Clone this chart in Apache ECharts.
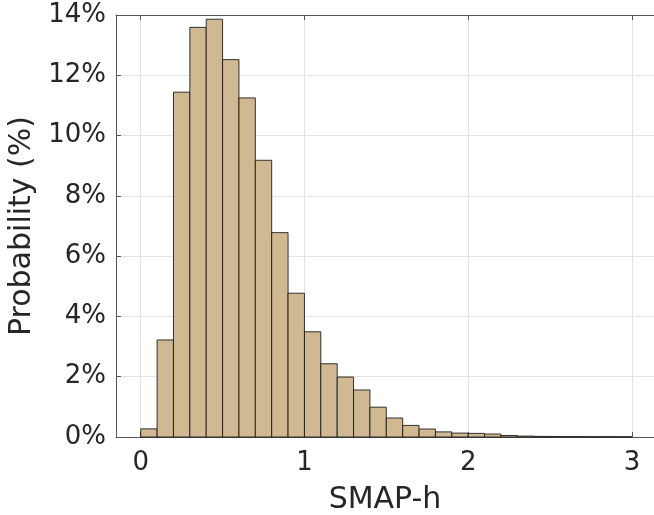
<!DOCTYPE html>
<html lang="en">
<head>
    <meta charset="UTF-8">
    <title>SMAP-h histogram</title>
    <script src="https://cdn.jsdelivr.net/npm/echarts@6/dist/echarts.min.js"></script>
    <style>
        html, body { margin: 0; padding: 0; background: #fff; }
        #chart { width: 654px; height: 515px; }
    </style>
</head>
<body>
    <div id="chart"></div>

    <script>
        // Histogram bins (left edges, width 0.1) and probability in %
        var binStarts = [0.0, 0.1, 0.2, 0.3, 0.4, 0.5, 0.6, 0.7, 0.8, 0.9,
                         1.0, 1.1, 1.2, 1.3, 1.4, 1.5, 1.6, 1.7, 1.8, 1.9,
                         2.0, 2.1, 2.2, 2.3, 2.4, 2.5, 2.6, 2.7, 2.8, 2.9];
        var binWidth = 0.1;
        var probability = [0.27, 3.22, 11.44, 13.59, 13.86, 12.52, 11.25, 9.18, 6.78, 4.77,
                           3.49, 2.43, 1.99, 1.56, 0.99, 0.63, 0.385, 0.265, 0.17, 0.13,
                           0.12, 0.10, 0.05, 0.03, 0.02, 0.015, 0.012, 0.01, 0.01, 0.008];
        var xTicks = [0, 1, 2, 3];

        var chart = echarts.init(document.getElementById('chart'));

        var textColor = '#262626';
        var fontFamily = 'DejaVu Sans';
        var axisColor = '#555';

        var data = binStarts.map(function (x, i) { return [x, x + binWidth, probability[i]]; });

        var option = {
            animation: false,
            grid: { left: 116, right: 0, top: 15, bottom: 78, outerBoundsMode: 'none', containLabel: false },
            xAxis: [{
                type: 'value',
                min: -0.151,
                max: 3.135,
                name: 'SMAP-h',
                nameLocation: 'middle',
                nameGap: 48,
                nameTextStyle: { fontSize: 30, color: textColor, fontFamily: fontFamily },
                axisLine: { show: true, onZero: false, lineStyle: { color: axisColor, width: 1 } },
                axisTick: { show: true, inside: true, length: 5, customValues: xTicks, lineStyle: { color: axisColor } },
                axisLabel: { customValues: xTicks, fontSize: 26, color: textColor, fontFamily: fontFamily, margin: 13 },
                splitLine: { show: true, lineStyle: { color: '#e3e3e3', width: 1 } }
            }, {
                type: 'value',
                position: 'top',
                min: -0.151,
                max: 3.135,
                axisLine: { show: true, onZero: false, lineStyle: { color: axisColor, width: 1 } },
                axisTick: { show: true, inside: true, length: 5, customValues: xTicks, lineStyle: { color: axisColor } },
                axisLabel: { show: false },
                splitLine: { show: false }
            }],
            yAxis: {
                type: 'value',
                min: 0,
                max: 14,
                interval: 2,
                name: 'Probability (%)',
                nameLocation: 'middle',
                nameGap: 78,
                nameTextStyle: { fontSize: 30, color: textColor, fontFamily: fontFamily },
                axisLine: { show: true, onZero: false, lineStyle: { color: axisColor, width: 1 } },
                axisTick: { show: true, inside: true, length: 5, lineStyle: { color: axisColor } },
                axisLabel: { formatter: '{value}%', fontSize: 26, color: textColor, fontFamily: fontFamily, margin: 10 },
                splitLine: { show: true, lineStyle: { color: '#e3e3e3', width: 1 } }
            },
            series: [{
                type: 'custom',
                xAxisIndex: 0,
                encode: { x: [0, 1], y: 2 },
                data: data,
                renderItem: function (params, api) {
                    var p0 = api.coord([api.value(0), api.value(2)]);
                    var p1 = api.coord([api.value(1), 0]);
                    return {
                        type: 'rect',
                        shape: { x: p0[0], y: p0[1], width: p1[0] - p0[0], height: p1[1] - p0[1] },
                        style: { fill: '#d0b892', stroke: 'rgba(20,20,20,0.85)', lineWidth: 1 }
                    };
                }
            }]
        };

        chart.setOption(option);
    </script>
</body>
</html>
